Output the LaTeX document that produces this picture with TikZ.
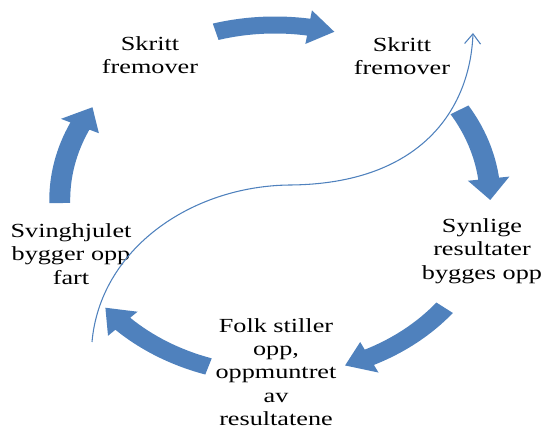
\documentclass[tikz,border=0pt]{standalone}
\usepackage{fontspec}
\setmainfont{Liberation Serif}
\usetikzlibrary{arrows.meta}
\definecolor{Accent}{HTML}{4F81BD}
\tikzset{
  lbl/.style={align=center, xscale=1.31, inner sep=0pt,
              font=\fontsize{15}{17.5}\selectfont},
  cyc/.style={fill=Accent},
  thinarr/.style={-{Straight Barb[length=7.5pt,width=12pt]}, color=Accent, line width=0.8pt}
}
% block arrow along the circle: #1 start angle, #2 tip angle
\newcommand{\cycarrow}[2]{%
  \fill[cyc] (#1:183.5) arc[start angle=#1, end angle={#2+7}, radius=183.5]
    -- ({#2+7}:192) -- (#2:175) -- ({#2+7}:158) -- ({#2+7}:166.5)
    arc[start angle={#2+7}, end angle=#1, radius=166.5] -- cycle;}

\begin{document}
\begin{tikzpicture}[x=0.75pt, y=0.75pt]
  \useasboundingbox (0,0) rectangle (544,428);
  \node[lbl] (fwdA) at (150,373) {Skritt\\fremover};
  \node[lbl] (fwdB) at (402,372) {Skritt\\fremover};
  \node[lbl] (vis)  at (482,177) {Synlige\\resultater\\bygges opp};
  \node[lbl] (folk) at (276,56)  {Folk stiller\\opp,\\oppmuntret\\av\\resultatene};
  \node[lbl] (fly)  at (71,174)  {Svinghjulet\\bygger opp\\fart};

  \begin{scope}[shift={(275,228)}, xscale=1.23]
    \cycarrow{106}{74}
    \cycarrow{31}{0}
    \cycarrow{-38}{-71}
    \cycarrow{-108}{-142}
    \cycarrow{181}{148}
  \end{scope}

  \coordinate (sStart) at (92,86);
  \coordinate (sMid)   at (290,243);
  \coordinate (sEnd)   at (473,395);
  \draw[thinarr] (sStart) .. controls (100,178) and (190,242) .. (sMid)
                 .. controls (420,244) and (470,318) .. (sEnd);
\end{tikzpicture}
\end{document}
